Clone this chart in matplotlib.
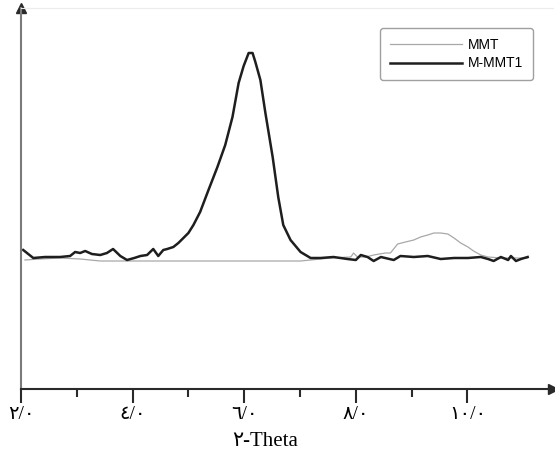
import matplotlib
matplotlib.use("Agg")
import matplotlib.pyplot as plt
from matplotlib.ticker import FixedLocator

# ---- data (intensity in arbitrary units) ----
m_mmt1_x = [2.04, 2.22, 2.43, 2.70, 2.88, 2.97, 3.06, 3.15, 3.27, 3.42, 3.54, 3.65, 3.78,
            3.90, 4.03, 4.14, 4.26, 4.37, 4.46, 4.55, 4.62, 4.73, 4.82, 4.91, 5.00, 5.09,
            5.21, 5.36, 5.52, 5.66, 5.79, 5.90, 5.99, 6.08, 6.15, 6.20, 6.29, 6.38, 6.51,
            6.61, 6.70, 6.83, 7.01, 7.19, 7.37, 7.60, 7.85, 8.00, 8.09, 8.21, 8.32, 8.45,
            8.68, 8.80, 9.04, 9.29, 9.52, 9.76, 10.01, 10.24, 10.37, 10.47, 10.60, 10.73,
            10.78, 10.87, 10.96, 11.08]
m_mmt1_y = [139, 131, 132, 132, 133, 137, 136, 138, 135, 134, 136, 140, 133,
            129, 131, 133, 134, 140, 133, 139, 140, 142, 146, 151, 156, 164,
            177, 199, 222, 244, 272, 306, 323, 336, 336, 327, 309, 276, 232,
            192, 164, 149, 137, 131, 131, 132, 130, 129, 134, 132, 128, 132,
            129, 133, 132, 133, 130, 131, 131, 132, 130, 128, 132, 129,
            133, 128, 130, 132]

mmt_x = [2.07, 2.34, 2.70, 3.06, 3.42, 3.87, 4.32, 4.85, 5.39, 5.93, 6.47, 7.01, 7.19,
         7.55, 7.91, 7.96, 8.03, 8.18, 8.32, 8.53, 8.62, 8.75, 8.89, 9.04, 9.16, 9.29,
         9.40, 9.52, 9.65, 9.76, 9.88, 10.01, 10.11, 10.24, 10.37, 10.60, 10.87, 11.08]
mmt_y = [129, 130, 131, 130, 128, 128, 128, 128, 128, 128, 128, 128, 129,
         131, 132, 136, 132, 132, 134, 136, 136, 145, 147, 149, 152, 154,
         156, 156, 155, 151, 146, 142, 138, 134, 132, 131, 131, 131]

major_ticks = [2, 4, 6, 8, 10]
minor_ticks = [3, 5, 7, 9]
tick_labels = ["\u0662/\u0660", "\u0664/\u0660", "\u0666/\u0660", "\u0668/\u0660", "\u0661\u0660/\u0660"]
x_label = "\u0662-Theta"
series_names = ["MMT", "M-MMT1"]

W, H = 555, 457
fig = plt.figure(figsize=(W / 100, H / 100), dpi=100)
ax = fig.add_axes([21 / W, (H - 389) / H, (553 - 21) / W, (389 - 8) / H])

ax.plot(mmt_x, mmt_y, color="#a8a8a8", lw=0.9, label=series_names[0])
ax.plot(m_mmt1_x, m_mmt1_y, color="#1e1e1e", lw=1.8, label=series_names[1],
        solid_joinstyle="round")

x0 = 2.0
x1 = x0 + (553 - 21) / 55.8
ax.set_xlim(x0, x1)
ax.set_ylim(0, 381)

ax.spines["top"].set_color("#ececec")
ax.spines["top"].set_linewidth(0.8)
ax.spines["right"].set_visible(False)
ax.spines["left"].set_color("#7a7a7a")
ax.spines["left"].set_linewidth(1.5)
ax.spines["bottom"].set_color("#2a2a2a")
ax.spines["bottom"].set_linewidth(1.5)

ax.plot([1], [0], marker=">", color="#2a2a2a", markersize=7, transform=ax.transAxes, clip_on=False)
ax.plot([0], [1], marker="^", color="#2a2a2a", markersize=7, transform=ax.transAxes, clip_on=False)

ax.set_yticks([])
ax.xaxis.set_major_locator(FixedLocator(major_ticks))
ax.xaxis.set_minor_locator(FixedLocator(minor_ticks))
ax.set_xticklabels(tick_labels, family=["Liberation Serif", "DejaVu Sans"], fontsize=14)
ax.tick_params(axis="x", which="major", length=10, width=1.5, color="#2a2a2a", pad=2)
ax.tick_params(axis="x", which="minor", length=5.5, width=1.5, color="#2a2a2a")

fig.text(265 / W, 1 - 442 / H, x_label, ha="center", va="center", fontsize=15,
         family=["Liberation Serif", "DejaVu Sans"])

leg = ax.legend(loc="upper right", bbox_to_anchor=(0.962, 0.948),
                prop={"family": "Liberation Sans", "size": 10}, handlelength=5.2,
                frameon=True, fancybox=True, edgecolor="#888888", borderpad=0.7,
                labelspacing=0.35, handletextpad=0.4, borderaxespad=0)
leg.get_frame().set_linewidth(1.0)

fig.savefig("out.png", dpi=100)
